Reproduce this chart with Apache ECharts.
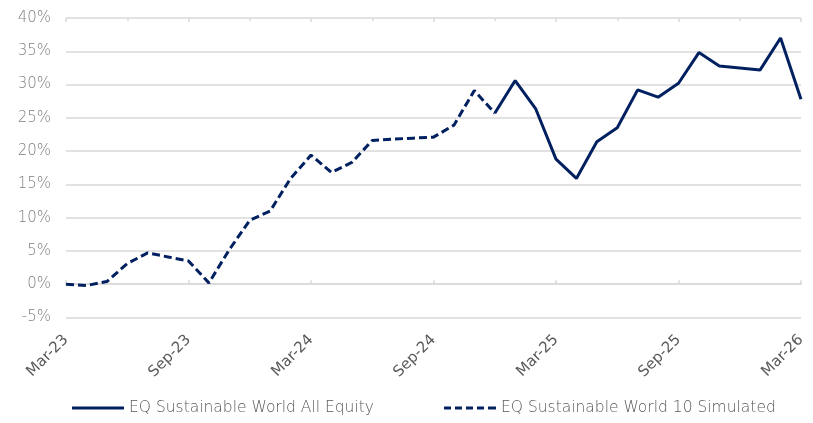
<!DOCTYPE html>
<html>
<head>
<meta charset="utf-8">
<script src="https://cdn.jsdelivr.net/npm/echarts@6/dist/echarts.min.js"></script>
<style>
html,body{margin:0;padding:0;background:#fff;}
#chart{width:813px;height:423px;}
</style>
</head>
<body>
<div id="chart"></div>
<script>
const categories = ["Mar-23","Apr-23","May-23","Jun-23","Jul-23","Aug-23","Sep-23","Oct-23","Nov-23","Dec-23",
"Jan-24","Feb-24","Mar-24","Apr-24","May-24","Jun-24","Jul-24","Aug-24","Sep-24","Oct-24","Nov-24","Dec-24",
"Jan-25","Feb-25","Mar-25","Apr-25","May-25","Jun-25","Jul-25","Aug-25","Sep-25","Oct-25","Nov-25","Dec-25",
"Jan-26","Feb-26","Mar-26"];
// EQ Sustainable World 10 Simulated (Mar-23 .. Dec-24)
const simulated = [0.0,-0.2,0.4,3.1,4.7,4.1,3.5,0.2,5.2,9.6,
11.0,15.9,19.4,16.8,18.3,21.6,21.8,21.95,22.1,23.9,29.1,25.7];
// EQ Sustainable World All Equity (Dec-24 .. Mar-26)
const allEquity = [25.7,30.6,26.4,18.8,15.9,21.4,23.5,29.2,28.1,30.2,34.8,32.8,32.5,32.2,37.0,27.8];
const yTicks = {min:-5, max:40, step:5};
const seriesNames = ["EQ Sustainable World All Equity","EQ Sustainable World 10 Simulated"];

const simData = categories.map((c,i)=> i < simulated.length ? simulated[i] : '-');
const eqStart = simulated.length - 1;
const eqData = categories.map((c,i)=> i >= eqStart ? allEquity[i-eqStart] : '-');

const navy = '#002060';
const font = '"DejaVu Sans", sans-serif';
const chart = echarts.init(document.getElementById('chart'));
const baseX = {type:'category', data:categories, boundaryGap:false, splitLine:{show:false}};
chart.setOption({
  animation:false,
  grid:{left:66, right:12, top:18, bottom:105.5, containLabel:false},
  xAxis:[
    Object.assign({}, baseX, {
      position:'bottom',
      axisLine:{show:false, onZero:false}, axisTick:{show:false},
      axisLabel:{interval:5, rotate:45, color:'#595959', fontSize:15, fontWeight:'normal', fontFamily:font, margin:20}
    }),
    Object.assign({}, baseX, {
      axisLine:{show:true, onZero:true, lineStyle:{color:'#d9d9d9', width:1.5}},
      axisTick:{show:true, interval:5, length:4, inside:false, lineStyle:{color:'#d9d9d9', width:1.5}},
      axisLabel:{show:false}
    }),
    Object.assign({}, baseX, {
      axisLine:{show:false, onZero:true},
      axisTick:{show:true, interval:5, length:4, inside:true, lineStyle:{color:'#d9d9d9', width:1.5}},
      axisLabel:{show:false}
    }),
    Object.assign({}, baseX, {
      axisLine:{show:false, onZero:true},
      axisTick:{show:true, interval:2, length:3, inside:true, lineStyle:{color:'#d9d9d9', width:1.5}},
      axisLabel:{show:false}
    })
  ],
  yAxis:{
    type:'value', min:yTicks.min, max:yTicks.max, interval:yTicks.step,
    axisLine:{show:false}, axisTick:{show:false},
    splitLine:{lineStyle:{color:'#d9d9d9', width:1.5}},
    axisLabel:{formatter:'{value}%', color:'#7f7f7f', fontSize:15, fontWeight:200, fontFamily:font, margin:15}
  },
  legend:{
    top:400, left:72, padding:0, itemWidth:52, itemHeight:3, itemGap:70,
    textStyle:{color:'#595959', fontSize:15.5, fontWeight:200, fontFamily:font},
    data:[
      {name:seriesNames[0], icon:'path://M0,0H52V3H0Z'},
      {name:seriesNames[1], icon:'path://M0,0H7V3H0Z M11,0H18V3H11Z M22,0H29V3H22Z M33,0H40V3H33Z M44,0H52V3H44Z'}
    ]
  },
  series:[
    {name:seriesNames[0], type:'line', data:eqData, showSymbol:false, symbol:'none',
     lineStyle:{color:navy, width:3}, itemStyle:{color:navy}, xAxisIndex:0},
    {name:seriesNames[1], type:'line', data:simData, showSymbol:false, symbol:'none',
     lineStyle:{color:navy, width:3, type:[8,4]}, itemStyle:{color:navy}, xAxisIndex:0}
  ]
});
</script>
</body>
</html>
